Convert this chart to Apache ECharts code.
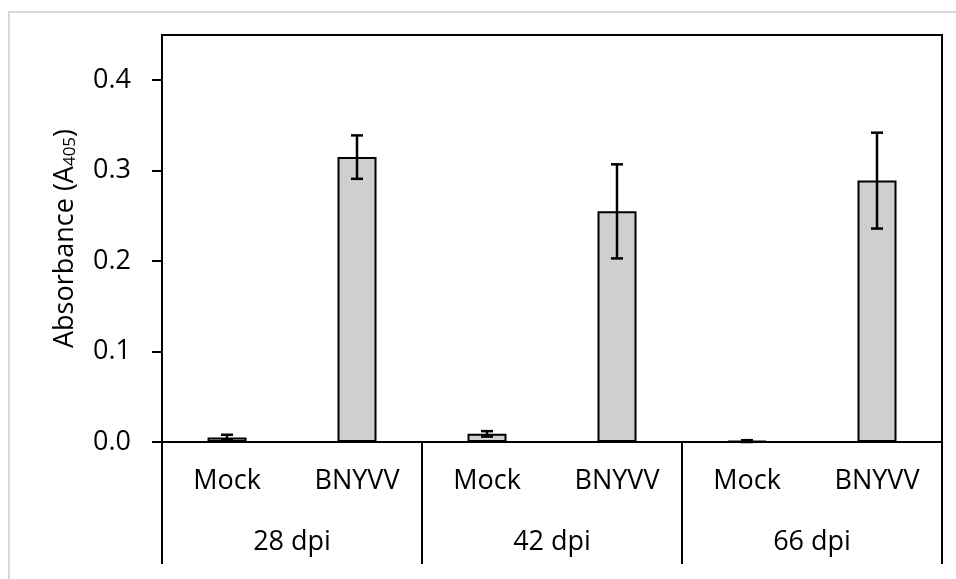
<!DOCTYPE html>
<html>
<head>
<meta charset="utf-8">
<script src="https://cdn.jsdelivr.net/npm/echarts@6/dist/echarts.min.js"></script>
<style>
  html, body { margin: 0; padding: 0; background: #fff; }
  #main { width: 956px; height: 579px; }
</style>
</head>
<body>
<div id="main"></div>
<script>
// data
var treatments = ['Mock', 'BNYVV', 'Mock', 'BNYVV', 'Mock', 'BNYVV'];
var timepoints = ['28 dpi', '42 dpi', '66 dpi'];
var absorbance = [0.005, 0.315, 0.009, 0.255, 0.001, 0.289];
var stdErr = [0.003, 0.024, 0.003, 0.052, 0.001, 0.053];
var yTicks = [0, 0.1, 0.2, 0.3, 0.4];

(function(){
    var myChart = echarts.init(document.getElementById('main'));
    var font = '"Open Sans", sans-serif';

    var errData = absorbance.map(function(v, i){
        return [i, v - stdErr[i], v + stdErr[i]];
    });

    var option = {
        backgroundColor: '#fff',
        animation: false,
        graphic: [{
            type: 'rect',
            shape: { x: 9, y: 12, width: 1200, height: 1200 },
            style: { fill: 'none', stroke: '#d9d9d9', lineWidth: 2 },
            silent: true
        }],
        grid: {
            left: 162, right: 14, top: 35, bottom: 137,
            show: true, borderColor: '#000', borderWidth: 2
        },
        xAxis: [{
            type: 'category',
            data: treatments,
            position: 'bottom',
            offset: 0,
            axisLine: { lineStyle: { color: '#000', width: 2 } },
            axisTick: { show: false },
            axisLabel: { color: '#000', fontFamily: font, fontSize: 27, margin: 26, interval: 0 }
        }, {
            type: 'category',
            data: timepoints,
            position: 'bottom',
            offset: 0,
            axisLine: { show: false },
            axisTick: { show: true, length: 122, lineStyle: { color: '#000', width: 2 } },
            axisLabel: { color: '#000', fontFamily: font, fontSize: 27, margin: 87 }
        }],
        yAxis: {
            type: 'value',
            min: 0,
            max: 0.45,
            interval: 0.1,
            name: '{m|Absorbance (A}{s|405}{m|)}',
            nameLocation: 'middle',
            nameGap: 83,
            nameTextStyle: {
                rich: {
                    m: { fontFamily: font, fontSize: 27, color: '#000' },
                    s: { fontFamily: font, fontSize: 17, color: '#000', padding: [11, 0, 0, 0] }
                }
            },
            splitLine: { show: false },
            axisLine: { show: true, lineStyle: { color: '#000', width: 2 } },
            axisTick: { show: true, length: 10, customValues: yTicks, lineStyle: { color: '#000', width: 2 } },
            axisLabel: {
                color: '#000', fontFamily: font, fontSize: 27, margin: 31,
                customValues: yTicks,
                formatter: function(v){ return v.toFixed(1); }
            }
        },
        series: [{
            type: 'bar',
            data: absorbance,
            barWidth: 39,
            itemStyle: { color: '#d0cece', borderColor: '#000', borderWidth: 2 }
        }, {
            type: 'custom',
            data: errData,
            z: 5,
            renderItem: function(params, api){
                var x = api.value(0);
                var lo = api.coord([x, api.value(1)]);
                var hi = api.coord([x, api.value(2)]);
                var hw = 6;
                var st = { stroke: '#000', lineWidth: 2.5 };
                return {
                    type: 'group',
                    children: [
                        { type: 'line', shape: { x1: lo[0], y1: lo[1], x2: hi[0], y2: hi[1] }, style: st },
                        { type: 'line', shape: { x1: lo[0] - hw, y1: lo[1], x2: lo[0] + hw, y2: lo[1] }, style: st },
                        { type: 'line', shape: { x1: hi[0] - hw, y1: hi[1], x2: hi[0] + hw, y2: hi[1] }, style: st }
                    ]
                };
            }
        }]
    };

    myChart.setOption(option);
})();
</script>
</body>
</html>
